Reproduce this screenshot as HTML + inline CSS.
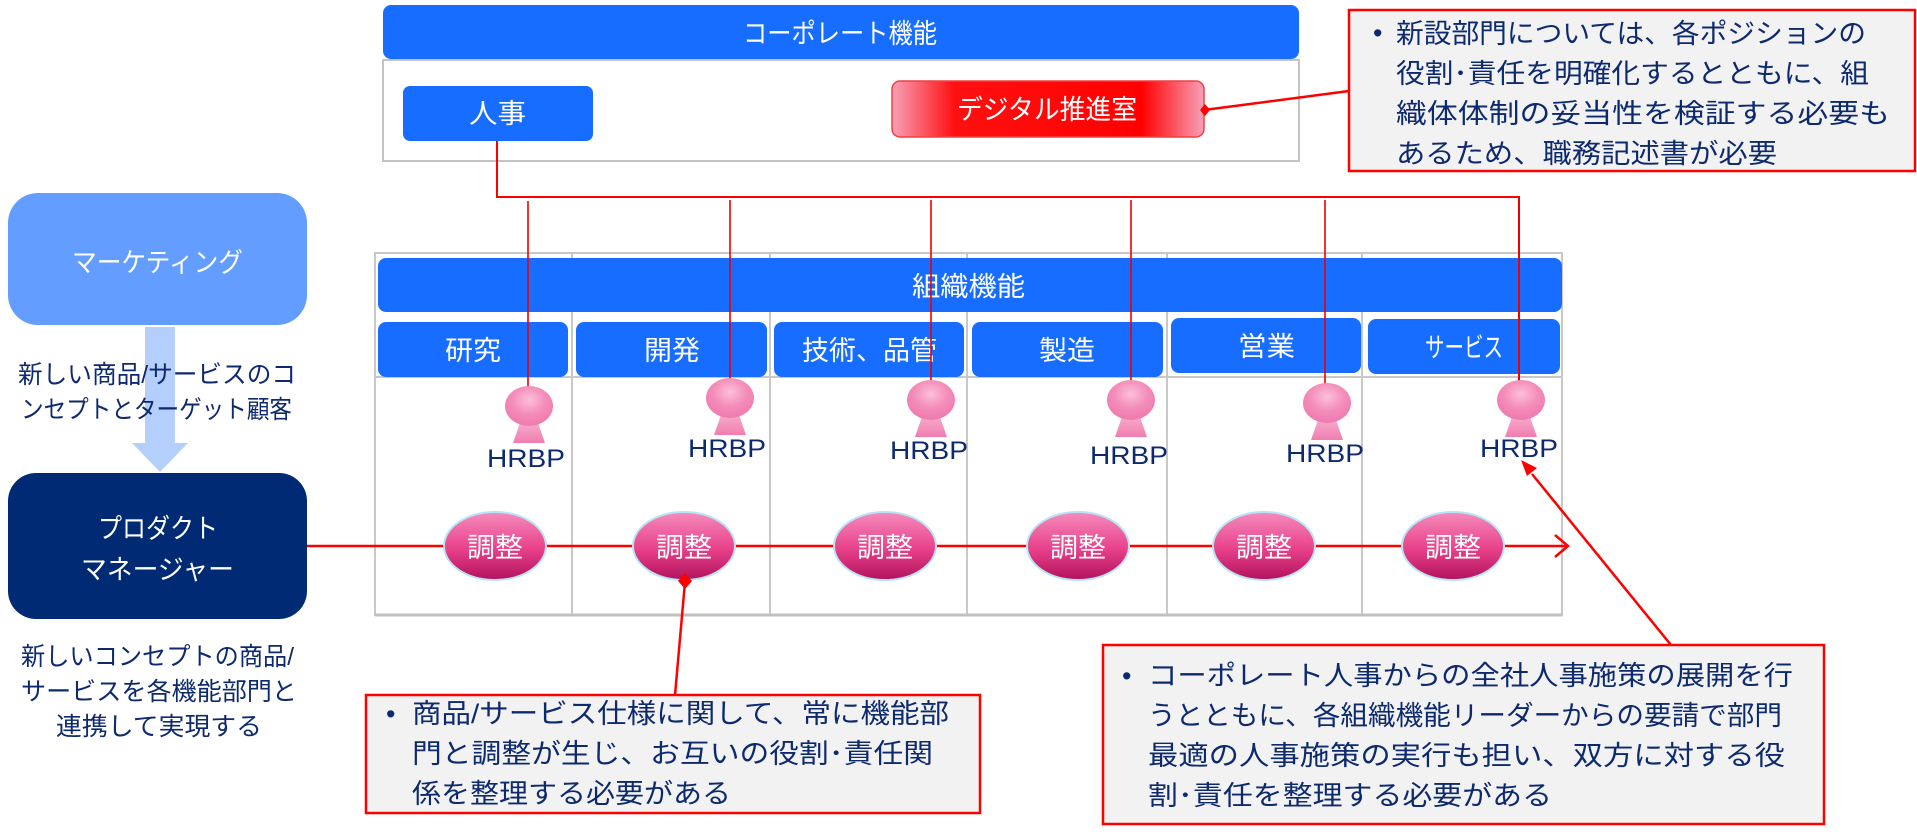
<!DOCTYPE html>
<html><head><meta charset="utf-8"><style>
html,body{margin:0;padding:0;background:#fff;}
svg{display:block;}
text{font-family:"Liberation Sans","Noto Sans CJK JP",sans-serif;}
.w{fill:#fff;font-size:27px;}
.n{fill:#0e2a6e;font-size:27px;}
.l{fill:#0e2a6e;font-size:25px;}
</style></head><body>
<svg width="1917" height="835" viewBox="0 0 1917 835" xmlns="http://www.w3.org/2000/svg">
<defs>
<linearGradient id="dg" x1="0" x2="1" y1="0" y2="0">
<stop offset="0" stop-color="#f7a0b8"/><stop offset="0.2" stop-color="#ff1010"/><stop offset="0.8" stop-color="#ff0000"/><stop offset="1" stop-color="#f7a0b8"/>
</linearGradient>
<linearGradient id="cg" x1="0" x2="0" y1="0" y2="1">
<stop offset="0" stop-color="#f58cbc"/><stop offset="0.55" stop-color="#e8408a"/><stop offset="1" stop-color="#b2125c"/>
</linearGradient>
<radialGradient id="hg" cx="0.5" cy="0.35" r="0.6">
<stop offset="0" stop-color="#fbc0da"/><stop offset="0.6" stop-color="#f48cba"/><stop offset="1" stop-color="#f07db0"/>
</radialGradient>
<linearGradient id="bg" x1="0" x2="0" y1="0" y2="1">
<stop offset="0" stop-color="#f9b0d0"/><stop offset="1" stop-color="#f07db0"/>
</linearGradient>
</defs>

<rect x="383" y="60" width="916" height="101" fill="#fff" stroke="#c4c4c4" stroke-width="2"/>
<rect x="383" y="5" width="916" height="54" rx="8" fill="#166dff"/>
<text class="w" x="743" y="43" textLength="194" lengthAdjust="spacingAndGlyphs">コーポレート機能</text>
<rect x="403" y="86" width="190" height="55" rx="7" fill="#166dff"/>
<text class="w" x="469" y="123" font-size="28" textLength="57" lengthAdjust="spacingAndGlyphs">人事</text>
<rect x="892" y="81" width="312" height="56" rx="8" fill="url(#dg)" stroke="#f04040" stroke-width="1.5"/>
<text class="w" x="957" y="119" textLength="180" lengthAdjust="spacingAndGlyphs">デジタル推進室</text>

<line x1="1204" y1="110" x2="1349" y2="91" stroke="#f00" stroke-width="2.5"/>
<polygon points="1200,110 1205,104 1210,110 1205,116" fill="#f00"/>
<rect x="1349" y="10" width="566" height="161" fill="#f2f2f2" stroke="#f00" stroke-width="2.5"/>
<text class="n" x="1373" y="42" font-size="22">•</text>
<text class="n" x="1396" y="43" textLength="470" lengthAdjust="spacingAndGlyphs">新設部門については、各ポジションの</text>
<text class="n" x="1396" y="83" textLength="473" lengthAdjust="spacingAndGlyphs">役割･責任を明確化するとともに、組</text>
<text class="n" x="1396" y="123" textLength="494" lengthAdjust="spacingAndGlyphs">織体体制の妥当性を検証する必要も</text>
<text class="n" x="1396" y="163" textLength="381" lengthAdjust="spacingAndGlyphs">あるため、職務記述書が必要</text>

<polyline points="497,141 497,197 1519,197 1519,385" fill="none" stroke="#f00" stroke-width="2"/>

<g stroke="#c8c8c8" stroke-width="2" fill="none">
<rect x="375" y="253" width="1187" height="362"/>
<line x1="572" y1="253" x2="572" y2="615"/>
<line x1="770" y1="253" x2="770" y2="615"/>
<line x1="967" y1="253" x2="967" y2="615"/>
<line x1="1167" y1="253" x2="1167" y2="615"/>
<line x1="1362" y1="253" x2="1362" y2="615"/>
<line x1="375" y1="377" x2="1562" y2="377"/>
</g>
<line x1="375" y1="615" x2="1562" y2="615" stroke="#c0c0c0" stroke-width="3"/>
<rect x="378" y="258" width="1184" height="54" rx="8" fill="#166dff"/>
<text class="w" x="912" y="296" textLength="113" lengthAdjust="spacingAndGlyphs">組織機能</text>
<g fill="#166dff">
<rect x="378" y="322" width="190" height="55" rx="8"/>
<rect x="576" y="322" width="191" height="55" rx="8"/>
<rect x="774" y="322" width="190" height="55" rx="8"/>
<rect x="972" y="322" width="191" height="55" rx="8"/>
<rect x="1171" y="318" width="190" height="55" rx="8"/>
<rect x="1368" y="319" width="192" height="55" rx="8"/>
</g>
<text class="w" x="445" y="360" textLength="56" lengthAdjust="spacingAndGlyphs">研究</text>
<text class="w" x="644" y="360" textLength="56" lengthAdjust="spacingAndGlyphs">開発</text>
<text class="w" x="802" y="360" textLength="135" lengthAdjust="spacingAndGlyphs">技術、品管</text>
<text class="w" x="1039" y="360" textLength="56" lengthAdjust="spacingAndGlyphs">製造</text>
<text class="w" x="1238" y="356" textLength="57" lengthAdjust="spacingAndGlyphs">営業</text>
<text class="w" x="1425" y="357" textLength="78" lengthAdjust="spacingAndGlyphs">サービス</text>
<g stroke="#e00" stroke-width="1.6">
<line x1="528" y1="201" x2="528" y2="388"/>
<line x1="730" y1="200" x2="730" y2="380"/>
<line x1="931" y1="200" x2="931" y2="382"/>
<line x1="1131" y1="200" x2="1131" y2="382"/>
<line x1="1325" y1="200" x2="1325" y2="386"/>
</g>
<line x1="1519" y1="197" x2="1519" y2="382" stroke="#e00" stroke-width="2"/>

<g>
<polygon points="521,420 537,420 545,443 513,443" fill="url(#bg)"/><ellipse cx="529" cy="406" rx="24" ry="20" fill="url(#hg)"/>
<polygon points="722,412 738,412 746,435 714,435" fill="url(#bg)"/><ellipse cx="730" cy="398" rx="24" ry="20" fill="url(#hg)"/>
<polygon points="923,414 939,414 947,437 915,437" fill="url(#bg)"/><ellipse cx="931" cy="400" rx="24" ry="20" fill="url(#hg)"/>
<polygon points="1123,414 1139,414 1147,437 1115,437" fill="url(#bg)"/><ellipse cx="1131" cy="400" rx="24" ry="20" fill="url(#hg)"/>
<polygon points="1319,417 1335,417 1343,440 1311,440" fill="url(#bg)"/><ellipse cx="1327" cy="403" rx="24" ry="20" fill="url(#hg)"/>
<polygon points="1513,414 1529,414 1537,437 1505,437" fill="url(#bg)"/><ellipse cx="1521" cy="400" rx="24" ry="20" fill="url(#hg)"/>
</g>
<g font-size="28">
<text class="l" font-size="28" x="526" y="467" text-anchor="middle" textLength="78" lengthAdjust="spacingAndGlyphs">HRBP</text>
<text class="l" font-size="28" x="727" y="457" text-anchor="middle" textLength="78" lengthAdjust="spacingAndGlyphs">HRBP</text>
<text class="l" font-size="28" x="929" y="459" text-anchor="middle" textLength="78" lengthAdjust="spacingAndGlyphs">HRBP</text>
<text class="l" font-size="28" x="1129" y="464" text-anchor="middle" textLength="78" lengthAdjust="spacingAndGlyphs">HRBP</text>
<text class="l" font-size="28" x="1325" y="462" text-anchor="middle" textLength="78" lengthAdjust="spacingAndGlyphs">HRBP</text>
<text class="l" font-size="28" x="1519" y="457" text-anchor="middle" textLength="78" lengthAdjust="spacingAndGlyphs">HRBP</text>
</g>

<line x1="307" y1="546" x2="1566" y2="546" stroke="#f00" stroke-width="2.5"/>
<polyline points="1555,535 1568,546 1555,557" fill="none" stroke="#f00" stroke-width="2.5"/>
<g stroke="#b8e4f8" stroke-width="2" fill="url(#cg)">
<ellipse cx="495" cy="546" rx="51" ry="34"/>
<ellipse cx="684" cy="546" rx="51" ry="34"/>
<ellipse cx="885" cy="546" rx="51" ry="34"/>
<ellipse cx="1078" cy="546" rx="51" ry="34"/>
<ellipse cx="1264" cy="546" rx="51" ry="34"/>
<ellipse cx="1453" cy="546" rx="51" ry="34"/>
</g>
<g>
<text class="w" x="467" y="557" font-size="28" textLength="56" lengthAdjust="spacingAndGlyphs">調整</text>
<text class="w" x="656" y="557" font-size="28" textLength="56" lengthAdjust="spacingAndGlyphs">調整</text>
<text class="w" x="857" y="557" font-size="28" textLength="56" lengthAdjust="spacingAndGlyphs">調整</text>
<text class="w" x="1050" y="557" font-size="28" textLength="56" lengthAdjust="spacingAndGlyphs">調整</text>
<text class="w" x="1236" y="557" font-size="28" textLength="56" lengthAdjust="spacingAndGlyphs">調整</text>
<text class="w" x="1425" y="557" font-size="28" textLength="56" lengthAdjust="spacingAndGlyphs">調整</text>
</g>

<line x1="685" y1="582" x2="675" y2="695" stroke="#f00" stroke-width="2.5"/>
<polygon points="685,573 692,581 685,589 678,581" fill="#f00"/>
<rect x="366" y="695" width="614" height="118" fill="#f2f2f2" stroke="#f00" stroke-width="2.5"/>
<text class="n" x="386" y="723" font-size="22">•</text>
<text class="n" x="412" y="723" textLength="537" lengthAdjust="spacingAndGlyphs">商品/サービス仕様に関して、常に機能部</text>
<text class="n" x="412" y="763" textLength="521" lengthAdjust="spacingAndGlyphs">門と調整が生じ、お互いの役割･責任関</text>
<text class="n" x="412" y="803" textLength="319" lengthAdjust="spacingAndGlyphs">係を整理する必要がある</text>

<line x1="1671" y1="645" x2="1532" y2="474" stroke="#f00" stroke-width="2.5"/>
<polygon points="1521,460 1537,468 1527,476" fill="#f00"/>
<rect x="1103" y="645" width="721" height="179" fill="#f2f2f2" stroke="#f00" stroke-width="2.5"/>
<text class="n" x="1122" y="685" font-size="22">•</text>
<text class="n" x="1148" y="685" textLength="645" lengthAdjust="spacingAndGlyphs">コーポレート人事からの全社人事施策の展開を行</text>
<text class="n" x="1148" y="725" textLength="634" lengthAdjust="spacingAndGlyphs">うとともに、各組織機能リーダーからの要請で部門</text>
<text class="n" x="1148" y="765" textLength="637" lengthAdjust="spacingAndGlyphs">最適の人事施策の実行も担い、双方に対する役</text>
<text class="n" x="1148" y="805" textLength="404" lengthAdjust="spacingAndGlyphs">割･責任を整理する必要がある</text>

<rect x="8" y="193" width="299" height="132" rx="30" fill="#639dff"/>
<text class="w" x="72" y="272" textLength="171" lengthAdjust="spacingAndGlyphs">マーケティング</text>
<rect x="145" y="327" width="30" height="118" fill="#b4cffb"/>
<polygon points="132,443 188,443 160,472" fill="#b4cffb"/>
<text class="l" x="18" y="383" textLength="278" lengthAdjust="spacingAndGlyphs">新しい商品/サービスのコ</text>
<text class="l" x="21" y="418" textLength="271" lengthAdjust="spacingAndGlyphs">ンセプトとターゲット顧客</text>
<rect x="8" y="473" width="299" height="146" rx="28" fill="#002a74"/>
<text class="w" x="98" y="538" font-size="28" textLength="120" lengthAdjust="spacingAndGlyphs">プロダクト</text>
<text class="w" x="81" y="579" font-size="28" textLength="153" lengthAdjust="spacingAndGlyphs">マネージャー</text>
<text class="l" x="21" y="665" textLength="273" lengthAdjust="spacingAndGlyphs">新しいコンセプトの商品/</text>
<text class="l" x="21" y="700" textLength="276" lengthAdjust="spacingAndGlyphs">サービスを各機能部門と</text>
<text class="l" x="56" y="735" textLength="206" lengthAdjust="spacingAndGlyphs">連携して実現する</text>
</svg>
</body></html>
